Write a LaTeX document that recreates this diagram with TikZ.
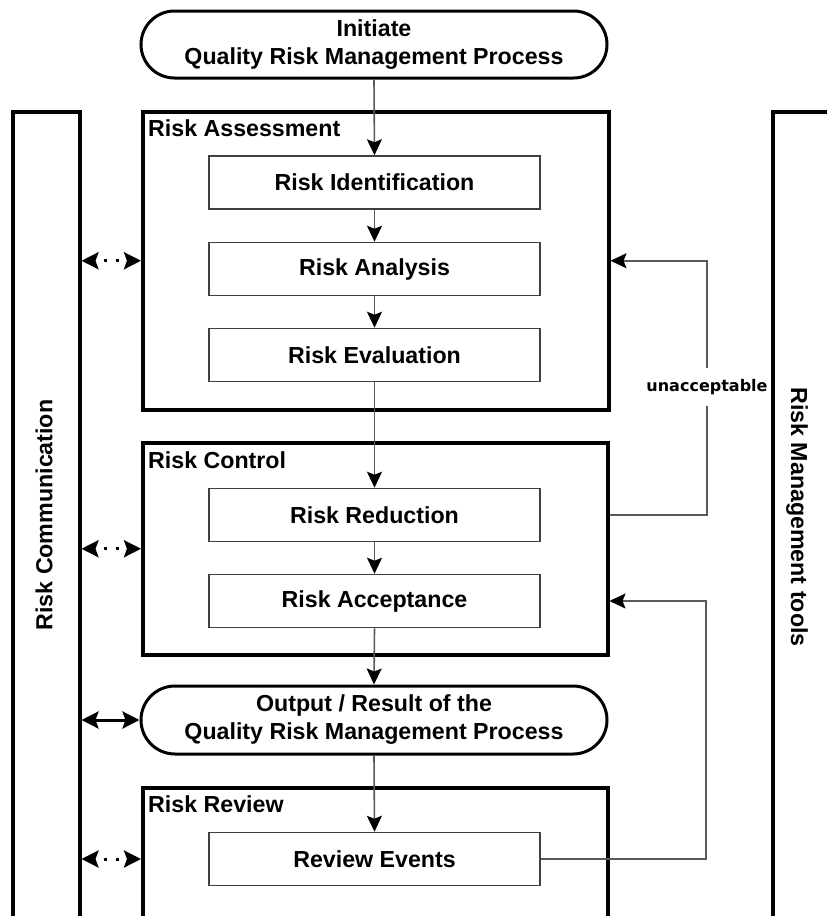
\documentclass[tikz,border=0pt]{standalone}
\usepackage{fontspec}
\setmainfont{Liberation Sans}
\newfontfamily\unaccfont{DejaVu Sans}
\usetikzlibrary{arrows.meta,shapes.misc}
\begin{document}
\begin{tikzpicture}[x=1pt,y=-1pt,
  font=\bfseries\fontsize{23.2}{28}\selectfont,
  container/.style={draw=black, line width=3.5pt, anchor=north west, inner sep=0pt},
  stepbox/.style={draw=black!75, line width=1.5pt, minimum width=331pt, minimum height=53pt, inner sep=0pt},
  term/.style={draw=black, line width=3pt, rounded rectangle, minimum width=466pt, minimum height=67pt, inner sep=0pt, align=center},
  boxlabel/.style={anchor=west, inner sep=0pt},
  conn/.style={draw=black!65, line width=1.6pt, -{Stealth[length=16pt,width=15pt,inset=3pt,color=black]}},
  dotarrow/.style={draw=black, line width=3pt, {Stealth[length=17pt,width=17pt,inset=3pt]}-{Stealth[length=17pt,width=17pt,inset=3pt]}, dash pattern=on 3pt off 9pt, dash phase=3pt},
  solidarrow/.style={draw=black, line width=3pt, {Stealth[length=17pt,width=17pt,inset=3pt]}-{Stealth[length=17pt,width=17pt,inset=3pt]}},
  sidetext/.style={inner sep=0pt}
]
\path[use as bounding box, fill=white] (0,0) rectangle (827,916);
\clip (0,0) rectangle (827,916);

% side columns
\node[container, minimum width=67pt, minimum height=810pt] (lc) at (11,110) {};
\node[container, minimum width=69pt, minimum height=810pt] (rcol) at (771,110) {};
\node[sidetext, rotate=90] (lct) at (44,515) {Risk Communication};
\node[sidetext, rotate=-90] (rct) at (797,517) {Risk Management tools};

% top terminal
\node[term] (init) at (374,44.5) {Initiate\\Quality Risk Management Process};

% risk assessment
\node[container, minimum width=466pt, minimum height=298pt] (ra) at (141,110) {};
\node[boxlabel] (lra) at (148,128) {Risk Assessment};
\node[stepbox] (ri) at (374.5,182.5) {Risk Identification};
\node[stepbox] (ran) at (374.5,269) {Risk Analysis};
\node[stepbox] (rev) at (374.5,355) {Risk Evaluation};

% risk control
\node[container, minimum width=465pt, minimum height=212pt] (rc) at (141,441) {};
\node[boxlabel] (lrc) at (148,460) {Risk Control};
\node[stepbox] (rred) at (374.5,515) {Risk Reduction};
\node[stepbox] (racc) at (374.5,601) {Risk Acceptance};

% output terminal
\node[term, minimum height=68pt] (out) at (374,720) {Output / Result of the\\Quality Risk Management Process};

% risk review
\node[container, minimum width=465pt, minimum height=140pt] (rr) at (141,786) {};
\node[boxlabel] (lrr) at (148,804) {Risk Review};
\node[stepbox] (rve) at (374.5,859) {Review Events};

% main flow
\draw[conn] (init.south) -- (ri.north);
\draw[conn] (ri.south) -- (ran.north);
\draw[conn] (ran.south) -- (rev.north);
\draw[conn] (rev.south) -- (rred.north);
\draw[conn] (rred.south) -- (racc.north);
\draw[conn] (racc.south) -- (out.north);
\draw[conn] (out.south) -- (rve.north);

% feedback loops
\coordinate (k1) at (707,0);
\coordinate (k2) at (706,0);
\draw[conn] (rc.east |- rred.east) -- (k1 |- rred.east) -- (k1 |- ra.east) -- (ra.east);
\draw[conn] (rve.east) -- (k2 |- rve.east) -- (k2 |- racc.east) -- (rc.east |- racc.east);
\node[fill=white, inner xsep=1pt, inner ysep=11pt, font=\unaccfont\bfseries\fontsize{16}{19}\selectfont] (unacc) at (707,387) {unacceptable};

% communication arrows
\draw[dotarrow] (lc.east |- ra.west) -- (ra.west);
\draw[dotarrow] (lc.east |- rc.west) -- (rc.west);
\draw[solidarrow] (lc.east |- out.west) -- (out.west);
\draw[dotarrow] (lc.east |- rve.west) -- (rr.west |- rve.west);
\end{tikzpicture}
\end{document}
